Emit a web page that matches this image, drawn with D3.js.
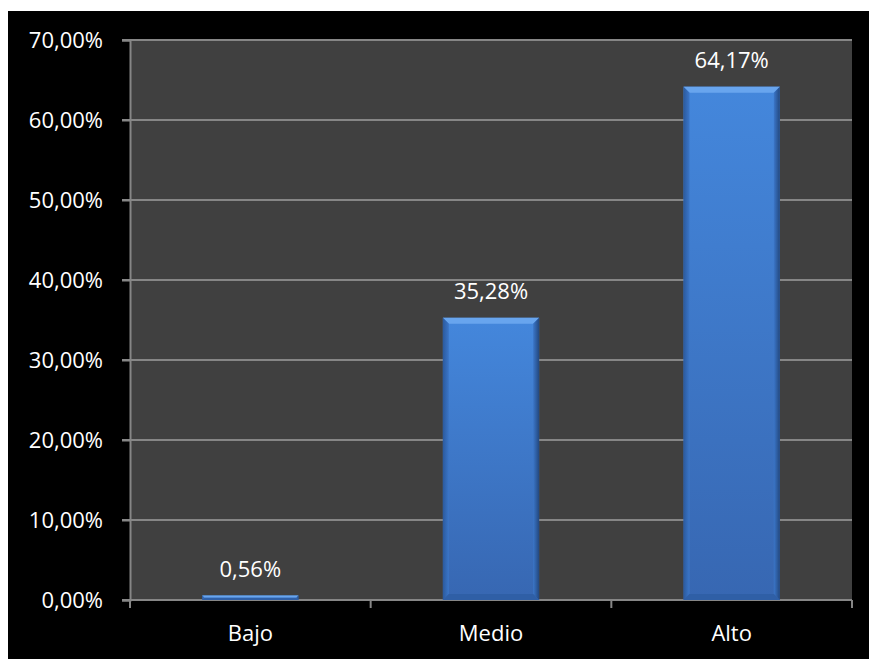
<!DOCTYPE html>
<html>
<head>
<meta charset="utf-8">
<script src="https://cdn.jsdelivr.net/npm/d3@7"></script>
<style>
  html, body { margin: 0; padding: 0; background: #ffffff; }
  svg { display: block; }
  text { font-family: "Open Sans", "Noto Sans", sans-serif; fill: #ffffff; }
</style>
</head>
<body>
<svg id="chart" width="869" height="659"></svg>
<script>
// Nivel de resultados por categoría (porcentaje)
const categories = ["Bajo", "Medio", "Alto"];
const values = [0.56, 35.28, 64.17];
const yTicks = [0, 10, 20, 30, 40, 50, 60, 70];

const fmt = v => v.toFixed(2).replace(".", ",") + "%";

const svg = d3.select("#chart");
const W = 869, H = 659;
const plot = { left: 130, top: 40, right: 852, bottom: 600 };

// Fondo negro del gráfico
svg.append("rect")
  .attr("x", 8).attr("y", 11)
  .attr("width", W - 8).attr("height", H - 11)
  .attr("fill", "#000000");

// Área de trazado
svg.append("rect")
  .attr("x", plot.left).attr("y", plot.top)
  .attr("width", plot.right - plot.left).attr("height", plot.bottom - plot.top)
  .attr("fill", "#404040");

const x = d3.scaleBand()
  .domain(categories)
  .range([plot.left, plot.right])
  .paddingInner(0.6)
  .paddingOuter(0.3);

const y = d3.scaleLinear()
  .domain([0, 70])
  .range([plot.bottom, plot.top]);

// Líneas de cuadrícula horizontales
svg.append("g")
  .selectAll("line")
  .data(yTicks)
  .join("line")
  .attr("x1", plot.left - 8)
  .attr("x2", plot.right)
  .attr("y1", d => y(d))
  .attr("y2", d => y(d))
  .attr("stroke", "#868686")
  .attr("stroke-width", 2);

// Eje Y
const yAxis = svg.append("g")
  .attr("transform", `translate(${plot.left},0)`)
  .call(d3.axisLeft(y).tickValues(yTicks).tickFormat(fmt).tickSize(8).tickPadding(19));
yAxis.select(".domain").attr("stroke", "#868686").attr("stroke-width", 2);
yAxis.selectAll(".tick line").attr("stroke", "#868686").attr("stroke-width", 2);
yAxis.selectAll(".tick text")
  .attr("fill", "#ffffff")
  .style("font-size", "22px")
  .style("font-family", "'Open Sans', sans-serif");

// Eje X con marcas entre categorías
const xBound = d3.scaleLinear().domain([0, categories.length]).range([plot.left, plot.right]);
const xAxisG = svg.append("g");
xAxisG.append("line")
  .attr("x1", plot.left).attr("x2", plot.right)
  .attr("y1", plot.bottom).attr("y2", plot.bottom)
  .attr("stroke", "#868686").attr("stroke-width", 2);
xAxisG.selectAll("line.sep")
  .data(d3.range(categories.length + 1))
  .join("line")
  .attr("class", "sep")
  .attr("x1", d => xBound(d)).attr("x2", d => xBound(d))
  .attr("y1", plot.bottom).attr("y2", plot.bottom + 8)
  .attr("stroke", "#868686").attr("stroke-width", 2);
xAxisG.selectAll("text")
  .data(categories)
  .join("text")
  .attr("x", d => x(d) + x.bandwidth() / 2)
  .attr("y", 641)
  .attr("text-anchor", "middle")
  .style("font-size", "22px")
  .text(d => d);

// Degradados de las barras con efecto biselado
const defs = svg.append("defs");
const gMain = defs.append("linearGradient").attr("id", "barMain").attr("x1", 0).attr("x2", 0).attr("y1", 0).attr("y2", 1);
gMain.append("stop").attr("offset", "0%").attr("stop-color", "#4487dc");
gMain.append("stop").attr("offset", "100%").attr("stop-color", "#3767b2");

const gSide = defs.append("linearGradient").attr("id", "barSide").attr("x1", 0).attr("x2", 1).attr("y1", 0).attr("y2", 0);
gSide.append("stop").attr("offset", "0%").attr("stop-color", "#2b5a9e");
gSide.append("stop").attr("offset", "100%").attr("stop-color", "#3b76c8");

const gSideR = defs.append("linearGradient").attr("id", "barSideR").attr("x1", 0).attr("x2", 1).attr("y1", 0).attr("y2", 0);
gSideR.append("stop").attr("offset", "0%").attr("stop-color", "#3b76c8");
gSideR.append("stop").attr("offset", "100%").attr("stop-color", "#23487f");

const bev = 6;
const bars = svg.append("g")
  .selectAll("g")
  .data(categories.map((c, i) => ({ c, v: values[i] })))
  .join("g");

bars.append("rect")
  .attr("x", d => x(d.c))
  .attr("y", d => y(d.v))
  .attr("width", x.bandwidth())
  .attr("height", d => plot.bottom - y(d.v))
  .attr("fill", "url(#barMain)");

// Biselado: cara superior clara, laterales y base oscuros
bars.each(function (d) {
  const g = d3.select(this);
  const x0 = x(d.c), x1 = x0 + x.bandwidth();
  const y0 = y(d.v), y1 = plot.bottom;
  const b = Math.min(bev, (y1 - y0) / 2);
  g.append("polygon")
    .attr("points", [[x0, y0], [x1, y0], [x1 - b, y0 + b], [x0 + b, y0 + b]].map(p => p.join(",")).join(" "))
    .attr("fill", "#68a5ee");
  g.append("polygon")
    .attr("points", [[x0, y0], [x0 + b, y0 + b], [x0 + b, y1 - b], [x0, y1]].map(p => p.join(",")).join(" "))
    .attr("fill", "url(#barSide)");
  g.append("polygon")
    .attr("points", [[x1, y0], [x1 - b, y0 + b], [x1 - b, y1 - b], [x1, y1]].map(p => p.join(",")).join(" "))
    .attr("fill", "url(#barSideR)");
  g.append("polygon")
    .attr("points", [[x0, y1], [x0 + b, y1 - b], [x1 - b, y1 - b], [x1, y1]].map(p => p.join(",")).join(" "))
    .attr("fill", "#2f5fa6");
});

// Etiquetas de valor
bars.append("text")
  .attr("x", d => x(d.c) + x.bandwidth() / 2)
  .attr("y", d => y(d.v) - 19)
  .attr("text-anchor", "middle")
  .style("font-size", "22px")
  .text(d => fmt(d.v));
</script>
</body>
</html>
